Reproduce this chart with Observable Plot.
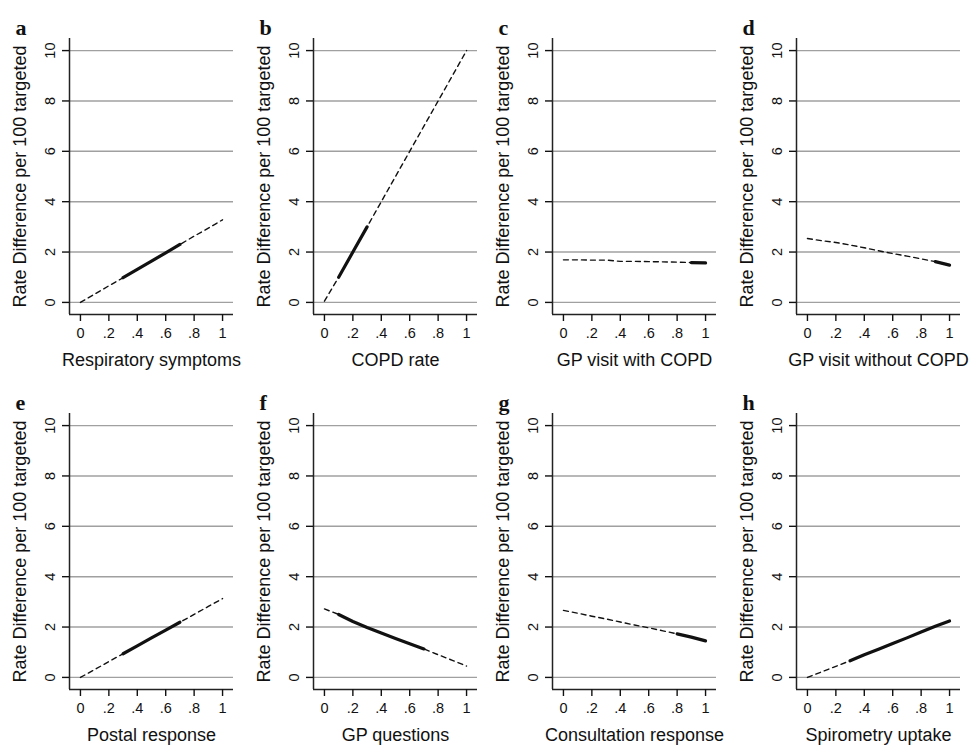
<!DOCTYPE html>
<html><head><meta charset="utf-8">
<script src="https://cdn.jsdelivr.net/npm/d3@7"></script>
<script src="https://cdn.jsdelivr.net/npm/@observablehq/plot@0.6"></script>
<style>
body{margin:0;background:#fff;}
#wrap{position:relative;width:973px;height:746px;overflow:hidden;background:#fff;}
.panel{position:absolute;}
</style></head><body><div id="wrap"></div>
<script>
const panelLetters = ["a", "b", "c", "d", "e", "f", "g", "h"];
const xTitles = ["Respiratory symptoms", "COPD rate", "GP visit with COPD", "GP visit without COPD",
                 "Postal response", "GP questions", "Consultation response", "Spirometry uptake"];
const yTitle = "Rate Difference per 100 targeted";
const xGrid = [0, 0.1, 0.2, 0.3, 0.4, 0.5, 0.6, 0.7, 0.8, 0.9, 1];
const xTicks = [0, 0.2, 0.4, 0.6, 0.8, 1];
const xTickLabels = ["0", ".2", ".4", ".6", ".8", "1"];
const yTicks = [0, 2, 4, 6, 8, 10];

const fitA = [0.0, 0.33, 0.66, 0.98, 1.31, 1.64, 1.97, 2.3, 2.63, 2.95, 3.28];
const fitB = [0.05, 1.0, 2.0, 3.0, 4.0, 5.0, 6.0, 7.0, 8.0, 9.0, 10.0];
const fitC = [1.69, 1.69, 1.68, 1.68, 1.63, 1.63, 1.62, 1.61, 1.6, 1.58, 1.57];
const fitD = [2.54, 2.45, 2.38, 2.28, 2.17, 2.05, 1.94, 1.84, 1.73, 1.62, 1.48];
const fitE = [0.0, 0.31, 0.63, 0.94, 1.25, 1.57, 1.88, 2.19, 2.5, 2.82, 3.13];
const fitF = [2.72, 2.5, 2.22, 1.98, 1.76, 1.55, 1.34, 1.13, 0.9, 0.68, 0.45];
const fitG = [2.66, 2.55, 2.43, 2.32, 2.2, 2.08, 1.97, 1.85, 1.73, 1.6, 1.45];
const fitH = [0.0, 0.22, 0.44, 0.66, 0.9, 1.12, 1.35, 1.57, 1.8, 2.03, 2.24];
const fits = [fitA, fitB, fitC, fitD, fitE, fitF, fitG, fitH];

const observedFrom = [0.3, 0.1, 0.9, 0.9, 0.3, 0.1, 0.8, 0.3];
const observedTo   = [0.7, 0.3, 1.0, 1.0, 0.7, 0.7, 1.0, 1.0];

const colLefts = [0, 244, 483, 727];
const rowTops = [0, 375];
const X0 = -0.077, X1 = 1.077, Y0 = -0.48, Y1 = 10.48;

function panel(i) {
  const rows = xGrid.map((x, j) => ({x, y: fits[i][j]}));
  const obs = rows.filter(d => d.x >= observedFrom[i] - 1e-9 && d.x <= observedTo[i] + 1e-9);
  return Plot.plot({
    width: 243, height: 371,
    marginTop: 38, marginBottom: 57, marginLeft: 69, marginRight: 10,
    style: {fontFamily: "'Liberation Sans', Arial, sans-serif", fontSize: "14px", background: "white", color: "#111", overflow: "visible"},
    x: {domain: [X0, X1], axis: null},
    y: {domain: [Y0, Y1], axis: null},
    marks: [
      Plot.ruleY(yTicks, {stroke: "#a0a0a0", strokeWidth: 1.4}),
      Plot.ruleX([X0], {stroke: "#222", strokeWidth: 1.5}),
      Plot.ruleY([Y0], {stroke: "#222", strokeWidth: 1.5}),
      Plot.axisY({ticks: yTicks, tickSize: 7, strokeWidth: 1.4, tickFormat: () => "", label: null}),
      Plot.axisX({ticks: xTicks, tickSize: 7, strokeWidth: 1.4, tickFormat: () => "", label: null}),
      Plot.text(yTicks, {x: X0, y: d => d, text: d => String(d), rotate: -90, dx: -19, textAnchor: "middle", fontSize: 14.5}),
      Plot.text(xTicks, {x: d => d, y: Y0, text: d => xTickLabels[xTicks.indexOf(d)], dy: 19, textAnchor: "middle", fontSize: 14.5}),
      Plot.line(rows, {x: "x", y: "y", stroke: "#111", strokeWidth: 1.4, strokeDasharray: "5,4"}),
      Plot.line(obs, {x: "x", y: "y", stroke: "#111", strokeWidth: 3.2}),
      Plot.text([xTitles[i]], {frameAnchor: "bottom", textAnchor: "middle", dy: 51, fontSize: 18}),
      Plot.text([yTitle], {frameAnchor: "left", textAnchor: "middle", rotate: -90, dx: -49, fontSize: 18}),
      Plot.text([panelLetters[i]], {frameAnchor: "top-left", textAnchor: "start", dx: -54, dy: -19,
                fontSize: 22, fontWeight: "bold", fontFamily: "'Liberation Serif', 'DejaVu Serif', serif"})
    ]
  });
}

const wrap = document.getElementById("wrap");
for (let i = 0; i < 8; i++) {
  const div = document.createElement("div");
  div.className = "panel";
  div.style.left = colLefts[i % 4] + "px";
  div.style.top = rowTops[Math.floor(i / 4)] + "px";
  div.appendChild(panel(i));
  wrap.appendChild(div);
}
</script>
</body></html>
